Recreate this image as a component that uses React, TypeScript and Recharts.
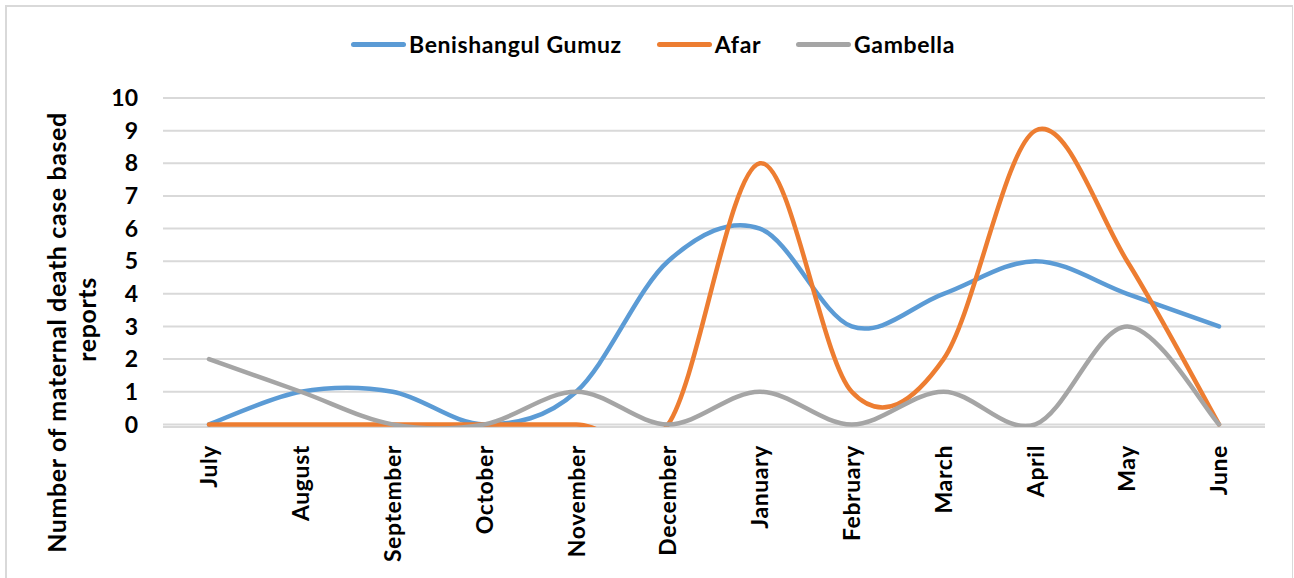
import React from "react";
import {
  LineChart,
  Line,
  XAxis,
  YAxis,
  CartesianGrid,
  Legend,
} from "recharts";

const months = [
  "July",
  "August",
  "September",
  "October",
  "November",
  "December",
  "January",
  "February",
  "March",
  "April",
  "May",
  "June",
];

const benishangul = [0, 1, 1, 0, 1, 5, 6, 3, 4, 5, 4, 3];
const afar = [0, 0, 0, 0, 0, 0, 8, 1, 2, 9, 5, 0];
const gambella = [2, 1, 0, 0, 1, 0, 1, 0, 1, 0, 3, 0];

const yTicks = [0, 1, 2, 3, 4, 5, 6, 7, 8, 9, 10];

const seriesInfo = [
  { key: "benishangul", name: "Benishangul Gumuz", color: "#5B9BD5" },
  { key: "afar", name: "Afar", color: "#ED7D31" },
  { key: "gambella", name: "Gambella", color: "#A5A5A5" },
];

const data = months.map((m, i) => ({
  month: m,
  benishangul: benishangul[i],
  afar: afar[i],
  gambella: gambella[i],
}));

const FONT = "Lato, 'Open Sans', sans-serif";
const FONT_SIZE = 23;
const SPACING = 0.6;

// excel style smoothed line (catmull-rom, 1/6 control points)
const excelSmooth = (context: any) => {
  let pts: number[][] = [];
  return {
    areaStart() {},
    areaEnd() {},
    lineStart() {
      pts = [];
    },
    point(x: number, y: number) {
      pts.push([+x, +y]);
    },
    lineEnd() {
      if (!pts.length) return;
      context.moveTo(pts[0][0], pts[0][1]);
      for (let i = 0; i < pts.length - 1; i++) {
        const p0 = pts[i - 1] || pts[i];
        const p1 = pts[i];
        const p2 = pts[i + 1];
        const p3 = pts[i + 2] || p2;
        context.bezierCurveTo(
          p1[0] + (p2[0] - p0[0]) / 6,
          p1[1] + (p2[1] - p0[1]) / 6,
          p2[0] - (p3[0] - p1[0]) / 6,
          p2[1] - (p3[1] - p1[1]) / 6,
          p2[0],
          p2[1]
        );
      }
    },
  };
};

const MonthTick = (props: any) => {
  const { x, y, payload } = props;
  return (
    <text
      transform={`translate(${x},${y}) rotate(-90)`}
      textAnchor="end"
      dy="0.36em"
      fill="#000"
      fontFamily={FONT}
      fontWeight="bold"
      fontSize={FONT_SIZE}
      letterSpacing={SPACING}
    >
      {payload.value}
    </text>
  );
};

const YLabel = (props: any) => {
  const vb = props.viewBox || { x: 0, y: 0, width: 0, height: 0 };
  const cy = vb.y + vb.height / 2 + 70;
  return (
    <g fontFamily={FONT} fontWeight="bold" fontSize={25} fill="#000" letterSpacing={0.6}>
      <text transform={`translate(${66},${cy}) rotate(-90)`} textAnchor="middle">
        Number of maternal death case based
      </text>
      <text transform={`translate(${96},${cy - 13}) rotate(-90)`} textAnchor="middle">
        reports
      </text>
    </g>
  );
};

const LegendContent = () => (
  <div
    style={{
      display: "flex",
      justifyContent: "center",
      alignItems: "center",
      gap: 35,
      fontFamily: FONT,
      fontWeight: "bold",
      fontSize: FONT_SIZE,
      letterSpacing: SPACING,
      color: "#000",
      paddingLeft: 12,
    }}
  >
    {seriesInfo.map((s) => (
      <div key={s.key} style={{ display: "flex", alignItems: "center" }}>
        <span
          style={{
            display: "inline-block",
            width: 55,
            height: 5,
            borderRadius: 3,
            background: s.color,
            marginRight: 3,
          }}
        />
        <span>{s.name}</span>
      </div>
    ))}
  </div>
);

export default function App() {
  return (
    <div
      style={{
        position: "absolute",
        left: 0,
        top: 0,
        width: 1294,
        height: 578,
        background: "#fff",
        overflow: "hidden",
      }}
    >
      <div
        style={{
          position: "absolute",
          left: 5,
          top: 5,
          width: 1285,
          height: 590,
          borderLeft: "2px solid #d9d9d9",
          borderTop: "2px solid #d9d9d9",
          borderRight: "1px solid #d9d9d9",
        }}
      />
      <LineChart
        width={1294}
        height={578}
        data={data}
        margin={{ top: 98, right: 29, left: 103, bottom: 11 }}
        style={{ position: "absolute", left: 0, top: 0 }}
      >
        <CartesianGrid vertical={false} stroke="#d9d9d9" strokeWidth={2} />
        <XAxis
          dataKey="month"
          interval={0}
          axisLine={false}
          tickLine={false}
          height={140}
          padding={{ left: 46, right: 46 }}
          tick={<MonthTick />}
          tickMargin={12}
        />
        <YAxis
          type="number"
          domain={[-0.08, 10]}
          ticks={yTicks}
          allowDataOverflow
          width={60}
          axisLine={false}
          tickLine={false}
          tickSize={6}
          tickMargin={19}
          tick={{ fill: "#000", fontFamily: FONT, fontWeight: "bold", fontSize: FONT_SIZE }}
          label={<YLabel />}
        />
        <Legend
          verticalAlign="middle"
          wrapperStyle={{ top: 30, left: 0, width: 1294 }}
          content={<LegendContent />}
        />
        {seriesInfo.map((s) => (
          <Line
            key={s.key}
            dataKey={s.key}
            name={s.name}
            type={excelSmooth as any}
            stroke={s.color}
            strokeWidth={4.5}
            strokeLinecap="round"
            strokeLinejoin="round"
            dot={false}
            activeDot={false}
            isAnimationActive={false}
          />
        ))}
      </LineChart>
    </div>
  );
}
